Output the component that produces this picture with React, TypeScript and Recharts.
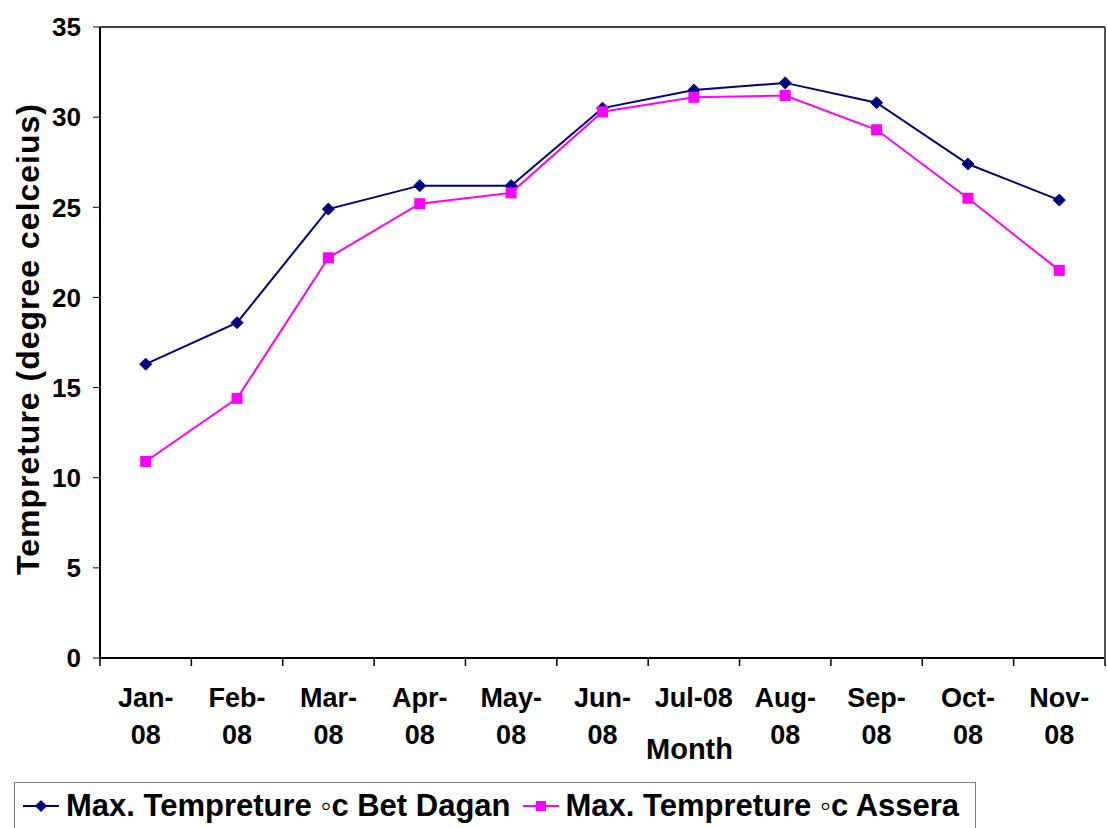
import React from 'react';
import { LineChart, Line, XAxis, YAxis, ReferenceLine } from 'recharts';

const months = ['Jan-08', 'Feb-08', 'Mar-08', 'Apr-08', 'May-08', 'Jun-08', 'Jul-08', 'Aug-08', 'Sep-08', 'Oct-08', 'Nov-08'];
const betDagan = [16.3, 18.6, 24.9, 26.2, 26.2, 30.5, 31.5, 31.9, 30.8, 27.4, 25.4];
const assera = [10.9, 14.4, 22.2, 25.2, 25.8, 30.3, 31.1, 31.2, 29.3, 25.5, 21.5];
const yTicks = [0, 5, 10, 15, 20, 25, 30, 35];

// Excel wrapped every label but Jul-08
const tickLines: Record<string, string[]> = {
  'Jul-08': ['Jul-08'],
};

const data = months.map((m, i) => ({ month: m, bet: betDagan[i], assera: assera[i] }));

const NAVY = '#000080';
const MAGENTA = '#FF00FF';
const FONT = '"Liberation Sans", Arial, sans-serif';

const W = 1107;
const H = 828;
const PLOT_LEFT = 100;
const PLOT_RIGHT = 1105;
const BAND = (PLOT_RIGHT - PLOT_LEFT) / months.length;

const Diamond = (props: any) => {
  const { cx, cy } = props;
  if (cx == null || cy == null) return null;
  const r = 6;
  return <path d={`M${cx},${cy - r}L${cx + r},${cy}L${cx},${cy + r}L${cx - r},${cy}Z`} fill={NAVY} stroke={NAVY} />;
};

const Square = (props: any) => {
  const { cx, cy } = props;
  if (cx == null || cy == null) return null;
  const s = 5.5;
  return <rect x={cx - s} y={cy - s} width={s * 2} height={s * 2} fill={MAGENTA} />;
};

const MonthTick = (props: any) => {
  const { x, y, payload, index } = props;
  const label: string = payload.value;
  const lines = tickLines[label] ?? [label.split('-')[0] + '-', label.split('-')[1]];
  const axisY = 658;
  return (
    <g>
      <line x1={x - BAND / 2} y1={axisY} x2={x - BAND / 2} y2={axisY + 8} stroke="#000" strokeWidth={1.5} />
      {index === months.length - 1 && (
        <line x1={x + BAND / 2} y1={axisY} x2={x + BAND / 2} y2={axisY + 8} stroke="#000" strokeWidth={1.5} />
      )}
      <text x={x} y={y} textAnchor="middle" fontFamily={FONT} fontWeight="bold" fontSize={27} fill="#000">
        {lines.map((l, i) => (
          <tspan key={i} x={x} dy={i === 0 ? 41 : 37}>{l}</tspan>
        ))}
      </text>
    </g>
  );
};

const MonthLabel = (props: any) => {
  const { viewBox } = props;
  const cx = viewBox.x + viewBox.width / 2 + 87;
  return (
    <text x={cx} y={759} textAnchor="middle" fontFamily={FONT} fontWeight="bold" fontSize={29} fill="#000">
      Month
    </text>
  );
};

const TempLabel = () => (
  <text
    x={39}
    y={339}
    transform="rotate(-90 39 339)"
    textAnchor="middle"
    fontFamily={FONT}
    fontWeight="bold"
    fontSize={32}
    letterSpacing={1}
    fill="#000"
  >
    Tempreture (degree celceius)
  </text>
);

const LegendItem = ({ color, shape, text }: { color: string; shape: 'diamond' | 'square'; text: string }) => (
  <div style={{ display: 'flex', alignItems: 'center', marginRight: 10 }}>
    <svg width={40} height={20} style={{ marginRight: 5 }}>
      <line x1={2} y1={10} x2={38} y2={10} stroke={color} strokeWidth={2} />
      {shape === 'diamond' ? (
        <path d="M20,4L26,10L20,16L14,10Z" fill={color} />
      ) : (
        <rect x={15} y={5} width={10} height={10} fill={color} />
      )}
    </svg>
    <span>{text}</span>
  </div>
);

export default function App() {
  return (
    <div style={{ position: 'absolute', left: 0, top: 0, width: W, height: H, background: '#fff', overflow: 'hidden' }}>
      <LineChart width={W} height={H} data={data} margin={{ top: 27, right: W - PLOT_RIGHT - 1, left: 0, bottom: 70 }}>
        <XAxis
          dataKey="month"
          scale="band"
          height={100}
          axisLine={{ stroke: '#000', strokeWidth: 2 }}
          tickLine={false}
          tick={<MonthTick />}
          interval={0}
          label={<MonthLabel />}
        />
        <YAxis
          yAxisId="l"
          width={100}
          domain={[0, 35]}
          ticks={yTicks}
          axisLine={{ stroke: '#000', strokeWidth: 2 }}
          tickLine={{ stroke: '#000' }}
          tickSize={7}
          tickMargin={12}
          tick={{ fontFamily: FONT, fontWeight: 'bold', fontSize: 26, fill: '#000' }}
          label={<TempLabel />}
        />
        <YAxis yAxisId="r" orientation="right" width={1} domain={[0, 35]} tick={false} axisLine={{ stroke: '#555', strokeWidth: 2 }} tickLine={false} />
        <ReferenceLine yAxisId="l" y={35} stroke="#000" strokeWidth={1.5} />
        <Line
          yAxisId="l"
          type="linear"
          dataKey="bet"
          stroke={NAVY}
          strokeWidth={2}
          dot={<Diamond />}
          activeDot={false}
          isAnimationActive={false}
        />
        <Line
          yAxisId="l"
          type="linear"
          dataKey="assera"
          stroke={MAGENTA}
          strokeWidth={2}
          dot={<Square />}
          activeDot={false}
          isAnimationActive={false}
        />
      </LineChart>
      {/* right edge of the plot frame */}
      <div style={{ position: 'absolute', left: PLOT_RIGHT - 1, top: 27, width: 2, height: 632, background: '#555' }} />
      <div
        style={{
          position: 'absolute',
          left: 14,
          top: 782,
          width: 962,
          height: 80,
          border: '1.5px solid #808080',
          boxSizing: 'border-box',
          display: 'flex',
          alignItems: 'flex-start',
          paddingLeft: 6,
          paddingTop: 5,
          fontFamily: FONT,
          fontWeight: 'bold',
          fontSize: 31,
          color: '#000',
          whiteSpace: 'nowrap',
        }}
      >
        <LegendItem color={NAVY} shape="diamond" text="Max. Tempreture ◦c Bet Dagan" />
        <LegendItem color={MAGENTA} shape="square" text="Max. Tempreture ◦c Assera" />
      </div>
    </div>
  );
}
